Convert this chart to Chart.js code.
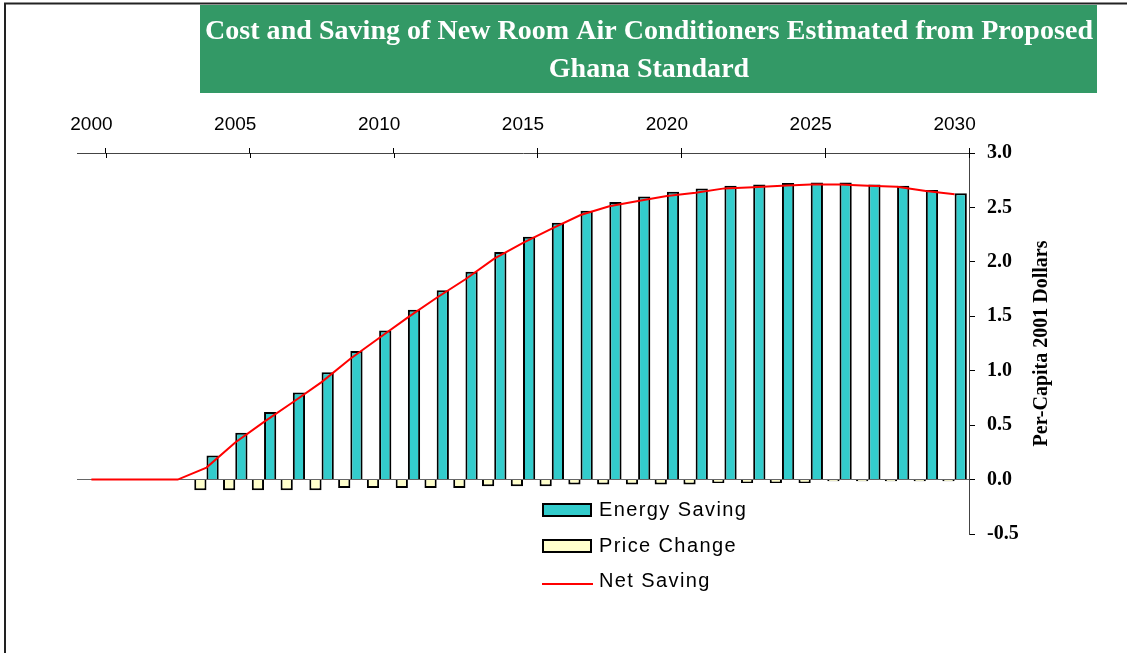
<!DOCTYPE html>
<html>
<head>
<meta charset="utf-8">
<script src="https://cdn.jsdelivr.net/npm/chart.js@4"></script>
<style>
html,body{margin:0;padding:0;background:#fff}
#wrap{width:1127px;height:653px;position:relative}
</style>
</head>
<body>
<div id="wrap"><canvas id="chart"></canvas></div>
<script>
// categories
const years = [2000,2001,2002,2003,2004,2005,2006,2007,2008,2009,
2010,2011,2012,2013,2014,2015,2016,2017,2018,2019,
2020,2021,2022,2023,2024,2025,2026,2027,2028,2029,2030];

// per-capita 2001 dollars
const energySaving = [null,null,null,null,0.22,0.43,0.62,0.80,0.985,1.18,
1.37,1.56,1.74,1.91,2.09,2.23,2.36,2.47,2.55,2.60,
2.645,2.675,2.70,2.71,2.725,2.73,2.73,2.71,2.70,2.66,2.63];

const priceChange = [null,null,null,null,-0.098,-0.098,-0.098,-0.098,-0.098,-0.077,
-0.077,-0.077,-0.077,-0.077,-0.062,-0.062,-0.062,-0.046,-0.046,-0.046,
-0.046,-0.046,-0.031,-0.031,-0.031,-0.031,-0.016,-0.016,-0.016,-0.016,-0.016];

const netSaving = [0,0,0,0,0.11,0.34,0.53,0.71,0.895,1.11,
1.30,1.49,1.67,1.84,2.03,2.175,2.305,2.43,2.51,2.56,
2.605,2.635,2.675,2.685,2.70,2.71,2.71,2.70,2.69,2.65,2.62];

const titleLines = ["Cost and Saving of New Room Air Conditioners Estimated from Proposed", "Ghana Standard"];
const yTitle = "Per-Capita 2001 Dollars";

const SANS = "Arial, 'Liberation Sans', sans-serif";
const SERIF = "'Times New Roman', 'Liberation Serif', serif";

// frame, title box, inner tick halves, axis title, legend
const decor = {
  id: "decor",
  beforeDraw(chart){
    const ctx = chart.ctx;
    ctx.save();
    ctx.fillStyle = "#fff";
    ctx.fillRect(0,0,chart.width,chart.height);
    // frame
    ctx.strokeStyle = "#222";
    ctx.lineWidth = 2;
    ctx.beginPath();
    ctx.moveTo(5,653); ctx.lineTo(5,3.5); ctx.lineTo(1127,3.5);
    ctx.stroke();
    // title
    ctx.fillStyle = "#339966";
    ctx.fillRect(200,5,897,88);
    ctx.fillStyle = "#fff";
    ctx.font = "bold 28px " + SERIF;
    ctx.textAlign = "center";
    ctx.textBaseline = "alphabetic";
    let w = ctx.measureText(titleLines[0]).width;
    ctx.letterSpacing = ((888 - w) / titleLines[0].length) + "px";
    ctx.fillText(titleLines[0], 649, 39);
    ctx.fillText(titleLines[1], 649, 77);
    ctx.restore();
  },
  afterDraw(chart){
    const ctx = chart.ctx;
    const xs = chart.scales.x;
    const area = chart.chartArea;
    ctx.save();
    // inward half of the category tick marks
    ctx.strokeStyle = "#000";
    ctx.lineWidth = 1;
    for (let i = 1; i <= years.length; i++) {
      if (i % 5 !== 1 && i !== years.length) continue;
      let x = i < years.length ? (xs.getPixelForTick(i-1) + xs.getPixelForTick(i)) / 2 : area.right;
      x = Math.round(x) + 0.5;
      ctx.beginPath();
      ctx.moveTo(x, area.top);
      ctx.lineTo(x, area.top + 5);
      ctx.stroke();
    }
    // right axis title, reading upward
    ctx.translate(1042, (area.top + area.bottom) / 2);
    ctx.rotate(-Math.PI/2);
    ctx.fillStyle = "#000";
    ctx.font = "bold 20px " + SERIF;
    ctx.textAlign = "center";
    ctx.textBaseline = "middle";
    ctx.fillText(yTitle, 0, 0);
    ctx.setTransform(1,0,0,1,0,0);

    // legend
    const ds = chart.data.datasets;
    const byLabel = l => ds.find(d => d.label === l);
    const rows = [byLabel("Energy Saving"), byLabel("Price Change"), byLabel("Net Saving")];
    const rowY = [510, 546, 581];
    ctx.font = "20px " + SANS;
    ctx.letterSpacing = "1.4px";
    ctx.textAlign = "left";
    ctx.textBaseline = "middle";
    rows.forEach((d, k) => {
      const y = rowY[k];
      if (d.type === "line") {
        ctx.strokeStyle = d.borderColor;
        ctx.lineWidth = 2;
        ctx.beginPath();
        ctx.moveTo(542, y + 3);
        ctx.lineTo(593, y + 3);
        ctx.stroke();
      } else {
        ctx.fillStyle = d.backgroundColor;
        ctx.fillRect(543, y - 6, 48, 12);
        ctx.strokeStyle = "#000";
        ctx.lineWidth = 2;
        ctx.strokeRect(543, y - 6, 48, 12);
      }
      ctx.fillStyle = "#000";
      ctx.fillText(d.label, 599, y);
    });
    ctx.restore();
  }
};

new Chart(document.getElementById("chart"), {
  type: "bar",
  data: {
    labels: years,
    datasets: [
      {
        type: "line",
        label: "Net Saving",
        data: netSaving,
        borderColor: "#FF0000",
        borderWidth: 2,
        pointRadius: 0,
        tension: 0,
        order: 0
      },
      {
        label: "Price Change",
        data: priceChange,
        backgroundColor: "#FFFFCC",
        borderColor: "#000",
        borderWidth: 2,
        categoryPercentage: 0.85,
        barPercentage: 1,
        order: 1
      },
      {
        label: "Energy Saving",
        data: energySaving,
        backgroundColor: "#33CCCC",
        borderColor: "#000",
        borderWidth: 2,
        categoryPercentage: 0.85,
        barPercentage: 1,
        order: 1
      }
    ]
  },
  options: {
    responsive: true,
    maintainAspectRatio: false,
    animation: false,
    layout: { padding: { left: 77, right: 0, top: 100, bottom: 119 } },
    plugins: {
      legend: { display: false },
      tooltip: { enabled: false }
    },
    scales: {
      x: {
        position: "top",
        offset: true,
        grid: {
          offset: true,
          drawOnChartArea: false,
          tickLength: 5,
          tickWidth: 1,
          tickColor: c => (c.type !== "tick" || c.index % 5 === 1) ? "#000" : "rgba(0,0,0,0)"
        },
        border: { color: "#444", width: 1 },
        ticks: {
          autoSkip: false,
          maxRotation: 0,
          padding: 12,
          color: "#000",
          font: { family: SANS, size: 19 },
          callback: (v, i) => i % 5 === 0 ? String(years[i]) : ""
        },
        afterFit: s => { s.height = 53; }
      },
      y: {
        position: "right",
        min: -0.5,
        max: 3,
        ticks: {
          stepSize: 0.5,
          padding: 12,
          color: "#000",
          font: { family: SERIF, size: 20, weight: "bold" },
          callback: v => v.toFixed(1)
        },
        grid: {
          color: c => (c.tick && c.tick.value === 0) ? "#666" : "rgba(0,0,0,0)",
          tickColor: "#000",
          tickLength: 6
        },
        border: { color: "#444", width: 1 },
        afterFit: s => { s.width = 158; }
      }
    }
  },
  plugins: [decor]
});
</script>
</body>
</html>
